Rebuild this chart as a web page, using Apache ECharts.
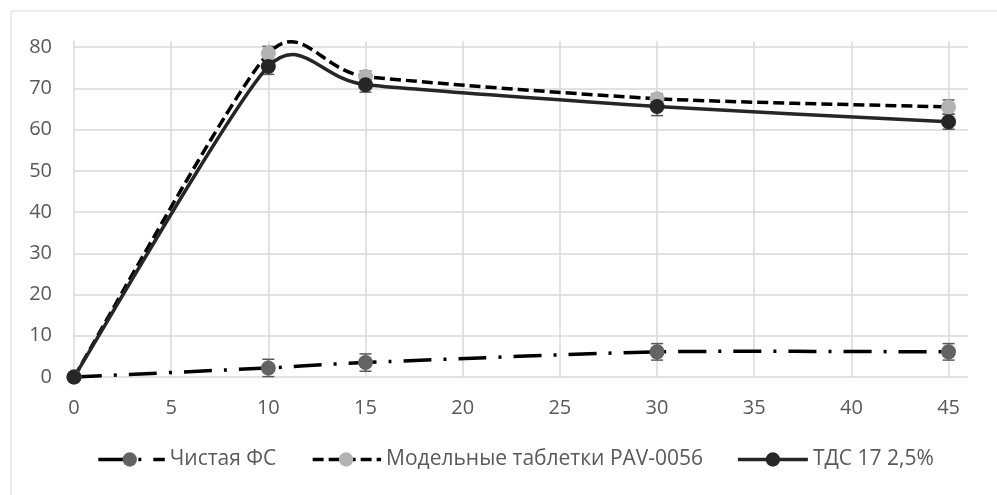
<!DOCTYPE html>
<html>
<head>
<meta charset="utf-8">
<script src="https://cdn.jsdelivr.net/npm/echarts@6/dist/echarts.min.js"></script>
<style>
  html, body { margin: 0; padding: 0; background: #fff; }
  #chart { width: 997px; height: 495px; }
</style>
</head>
<body>
<div id="chart"></div>
<script>
// Time points (x) and measured values for each formulation
const timePoints = [0, 10, 15, 30, 45];
const xTicks = [0, 5, 10, 15, 20, 25, 30, 35, 40, 45];
const yTicks = [0, 10, 20, 30, 40, 50, 60, 70, 80];

const pureFSName = 'Чистая ФС';
const pureFS = [0, 2.2, 3.5, 6.1, 6.1];
const pureFSErr = [0, 2.1, 2.1, 2.0, 2.0];

const modelName = 'Модельные таблетки PAV-0056';
const modelTab = [0, 78.5, 72.9, 67.5, 65.5];
const modelErr = [0, 1.7, 1.3, 1.2, 1.7];

const tdsName = 'ТДС 17 2,5%';
const tds = [0, 75.3, 70.9, 65.6, 61.9];
const tdsErr = [0, 1.9, 1.8, 2.2, 1.8];

const FONT = '"Open Sans", "Liberation Sans", sans-serif';
const LABEL_COLOR = '#595959';
const GRID_COLOR = '#d9d9d9';
const TENSION = 0.115;

const DASH_DOT = [28, 12, 3, 12];
const DASH = [11, 5];

function pairs(vals) { return timePoints.map((t, i) => [t, vals[i]]); }
function errTriples(vals, errs) { return timePoints.map((t, i) => [t, vals[i], errs[i]]); }

// Vertical error bar with caps, positioned through the axes
function errorBarRender(params, api) {
  const x = api.value(0), y = api.value(1), e = api.value(2);
  if (!e) return null;
  const top = api.coord([x, y + e]);
  const bot = api.coord([x, y - e]);
  const half = 6;
  const style = { stroke: '#595959', lineWidth: 1.5 };
  return {
    type: 'group',
    children: [
      { type: 'line', shape: { x1: top[0], y1: top[1], x2: bot[0], y2: bot[1] }, style },
      { type: 'line', shape: { x1: top[0] - half, y1: top[1], x2: top[0] + half, y2: top[1] }, style },
      { type: 'line', shape: { x1: bot[0] - half, y1: bot[1], x2: bot[0] + half, y2: bot[1] }, style }
    ]
  };
}

// Cardinal-spline segments in screen space, one bezier per data interval
function bezierAt(p0, c1, c2, p1, t) {
  const u = 1 - t;
  return [
    u * u * u * p0[0] + 3 * u * u * t * c1[0] + 3 * u * t * t * c2[0] + t * t * t * p1[0],
    u * u * u * p0[1] + 3 * u * u * t * c1[1] + 3 * u * t * t * c2[1] + t * t * t * p1[1]
  ];
}
function segmentLength(p0, c1, c2, p1) {
  let len = 0, prev = p0;
  for (let k = 1; k <= 24; k++) {
    const q = bezierAt(p0, c1, c2, p1, k / 24);
    len += Math.hypot(q[0] - prev[0], q[1] - prev[1]);
    prev = q;
  }
  return len;
}
function makeCurveRender(vals, color, dash) {
  return function (params, api) {
    const pts = timePoints.map((t, i) => api.coord([t, vals[i]]));
    const n = pts.length;
    const segs = [];
    for (let i = 0; i < n - 1; i++) {
      const a = pts[Math.max(i - 1, 0)], b = pts[i], c = pts[i + 1], d = pts[Math.min(i + 2, n - 1)];
      const c1 = [b[0] + (c[0] - a[0]) * TENSION, b[1] + (c[1] - a[1]) * TENSION];
      const c2 = [c[0] - (d[0] - b[0]) * TENSION, c[1] - (d[1] - b[1]) * TENSION];
      segs.push([b, c1, c2, c]);
    }
    const i = params.dataIndex;
    if (i >= segs.length) return null;
    let offset = 0;
    for (let k = 0; k < i; k++) offset += segmentLength.apply(null, segs[k]);
    const s = segs[i];
    return {
      type: 'bezierCurve',
      shape: { x1: s[0][0], y1: s[0][1], cpx1: s[1][0], cpy1: s[1][1], cpx2: s[2][0], cpy2: s[2][1], x2: s[3][0], y2: s[3][1] },
      style: {
        fill: null,
        stroke: color,
        lineWidth: 3.5,
        lineDash: dash,
        lineDashOffset: offset
      }
    };
  };
}

function curveSeries(vals, color, dash) {
  return {
    type: 'custom',
    renderItem: makeCurveRender(vals, color, dash),
    data: pairs(vals),
    encode: { x: 0, y: 1 },
    clip: false,
    silent: true
  };
}

function markerSeries(name, vals, markerColor) {
  return {
    name,
    type: 'line',
    data: pairs(vals),
    symbol: 'circle',
    symbolSize: 15,
    showSymbol: true,
    itemStyle: { color: markerColor },
    lineStyle: { opacity: 0 },
    silent: true
  };
}

function errSeries(vals, errs) {
  return {
    type: 'custom',
    renderItem: errorBarRender,
    data: errTriples(vals, errs),
    encode: { x: 0, y: 1 },
    silent: true
  };
}

function legendItem(name, color, dash) {
  return { name, lineStyle: { color, width: 3.5, type: dash, opacity: 1 } };
}

const chart = echarts.init(document.getElementById('chart'), null, { renderer: 'canvas' });

chart.setOption({
  animation: false,
  backgroundColor: '#ffffff',
  textStyle: { fontFamily: FONT },
  graphic: [{
    type: 'rect',
    shape: { x: 11, y: 11, width: 1000, height: 500 },
    style: { fill: 'none', stroke: GRID_COLOR, lineWidth: 1 },
    silent: true
  }],
  grid: { left: 74, right: 29, top: 41, bottom: 118 },
  legend: {
    data: [
      legendItem(pureFSName, '#000000', DASH_DOT),
      legendItem(modelName, '#000000', DASH),
      legendItem(tdsName, '#262626', 'solid')
    ],
    left: 93,
    top: 449,
    padding: 0,
    itemWidth: 70,
    itemHeight: 18,
    itemGap: 33,
    textStyle: { fontSize: 21, color: LABEL_COLOR, fontFamily: FONT }
  },
  xAxis: {
    type: 'value',
    min: 0,
    max: 46,
    interval: 5,
    axisLine: { show: false },
    axisTick: { show: false },
    axisLabel: {
      margin: 21,
      fontSize: 20,
      color: LABEL_COLOR,
      fontFamily: FONT,
      showMaxLabel: false,
      formatter: v => (xTicks.indexOf(v) >= 0 ? String(v) : '')
    },
    splitLine: { show: true, showMaxLine: false, lineStyle: { color: GRID_COLOR, width: 1.5 } }
  },
  yAxis: {
    type: 'value',
    min: 0,
    max: 81.5,
    interval: 10,
    axisLine: { show: false },
    axisTick: { show: false },
    axisLabel: {
      margin: 22,
      fontSize: 20,
      color: LABEL_COLOR,
      fontFamily: FONT,
      showMaxLabel: false,
      formatter: v => (yTicks.indexOf(v) >= 0 ? String(v) : '')
    },
    splitLine: { show: true, showMaxLine: false, lineStyle: { color: GRID_COLOR, width: 1.5 } }
  },
  series: [
    errSeries(pureFS, pureFSErr),
    curveSeries(pureFS, '#000000', DASH_DOT),
    markerSeries(pureFSName, pureFS, '#636363'),
    errSeries(modelTab, modelErr),
    curveSeries(modelTab, '#000000', DASH),
    markerSeries(modelName, modelTab, '#b3b3b3'),
    errSeries(tds, tdsErr),
    curveSeries(tds, '#262626', []),
    markerSeries(tdsName, tds, '#262626')
  ]
});
</script>
</body>
</html>
